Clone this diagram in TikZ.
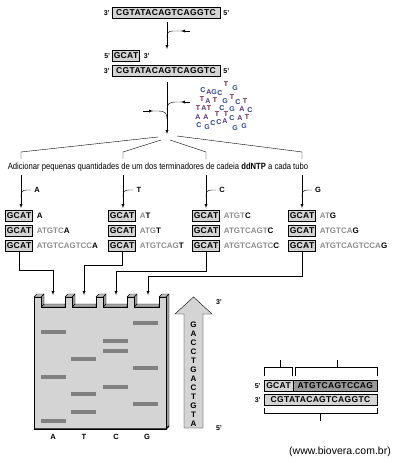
\documentclass[tikz,border=0pt]{standalone}
\usepackage{fontspec}
\setmainfont{Liberation Sans}
\usepackage{xcolor}
\usetikzlibrary{arrows, positioning}

\definecolor{nucA}{HTML}{5B2C83}
\definecolor{nucC}{HTML}{1F3A8A}
\definecolor{nucG}{HTML}{2A4A9C}
\definecolor{nucT}{HTML}{7A1F3D}
\definecolor{boxgray}{HTML}{D4D4D4}
\definecolor{fraggray}{HTML}{8C8C8C}

\newcommand{\lastnt}[1]{\textcolor{black}{#1}}

\tikzset{
    seq/.style={draw, fill=boxgray, inner sep=1.2pt, minimum height=11pt,
        font=\fontsize{8.5}{9}\selectfont\bfseries\addfontfeature{LetterSpace=4}},
    prime/.style={inner sep=0pt, font=\fontsize{7}{8}\selectfont\bfseries},
    frag/.style={inner sep=0pt, anchor=west, text=fraggray,
        font=\fontsize{8}{9}\selectfont\bfseries},
    lane/.style={inner sep=0pt, font=\fontsize{7.5}{8}\selectfont\bfseries},
    nt/.style={inner sep=0pt, font=\fontsize{7}{8}\selectfont\bfseries}
}

\begin{document}
\begin{tikzpicture}[x=1pt, y=-1pt, >=latex]
    \useasboundingbox (0,0) rectangle (400,463);

    % molde e iniciador
    \node[seq, minimum width=108pt] (tmpl) at (166,13) {CGTATACAGTCAGGTC};
    \node[prime, left=2pt of tmpl] (tmpl3) {3'};
    \node[prime, right=3pt of tmpl] (tmpl5) {5'};

    \coordinate (down1a) at (167,22);
    \coordinate (down1b) at (167,49);
    \draw[->] (down1a) -- (down1b);
    \draw[->] (190,31) -- (181,31);
    \draw (182,31) -- (173,31) .. controls (168,31) and (167,33) .. (167,38);

    \node[seq] (primer) at (126,56) {GCAT};
    \node[prime, left=2pt of primer] (primer5) {5'};
    \node[prime, right=4pt of primer] (primer3) {3'};
    \node[seq, minimum width=108pt] (tmpl2) at (166,71) {CGTATACAGTCAGGTC};
    \node[prime, left=2pt of tmpl2] (tmpl23) {3'};
    \node[prime, right=3pt of tmpl2] (tmpl25) {5'};

    \coordinate (down2a) at (167,82);
    \coordinate (down2b) at (167,134);
    \draw[->] (down2a) -- (down2b);
    \draw[->] (190,102) -- (181,102);
    \draw (182,102) -- (176,102) .. controls (169,102) and (167,104) .. (167,110);
    \draw[->] (143,111) -- (153,111);
    \draw (152,111) -- (158,111) .. controls (165,111) and (167,113) .. (167,119);

    % nucleotideos livres
    \foreach \x/\y/\l/\c in {
        203/90/C/nucC, 209/92/A/nucA, 214/92/G/nucG, 220/93/C/nucC, 226/84/T/nucT, 235/88/G/nucG,
        202/99/T/nucT, 208/101/A/nucA, 215/100/T/nucT, 225/101/G/nucG, 232/97/T/nucT, 238/102/C/nucC, 245/101/T/nucT,
        198/108/T/nucT, 204/108/A/nucA, 209/108/T/nucT, 222/108/C/nucC, 232/109/G/nucG, 242/109/A/nucA, 250/110/C/nucC,
        198/117/A/nucA, 206/117/A/nucA, 217/114/T/nucT, 226/114/T/nucT, 232/118/C/nucC, 240/118/A/nucA, 247/117/T/nucT,
        199/125/C/nucC, 207/127/G/nucG, 213/123/C/nucC, 219/122/C/nucC, 225/121/A/nucA, 235/128/G/nucG, 244/126/G/nucG}
        \node[nt, text=\c] at (\x,\y) {\l};

    % divisao em quatro tubos
    \coordinate (colA) at (21,152);
    \coordinate (colT) at (123,152);
    \coordinate (colC) at (206,152);
    \coordinate (colG) at (302,152);
    \draw (158,137) -- (colA) -- ++(0,7);
    \draw (161,140) -- (colT) -- ++(0,7);
    \draw (170,140) -- (colC) -- ++(0,7);
    \draw (177,136) -- (colG) -- ++(0,7);

    \node[inner sep=0pt, font=\fontsize{9}{10}\selectfont] (instr) at (158,167)
        {\scalebox{0.85}[1]{Adicionar pequenas quantidades de um dos terminadores de cadeia \textbf{ddNTP} a cada tubo}};

    \draw[->] (21,175) -- (21,208);
    \draw[->] (123,175) -- (123,208);
    \draw[->] (206,175) -- (206,208);
    \draw[->] (302,175) -- (302,208);
    \draw (31,190) -- (27,190) .. controls (22,190) and (21,192) .. (21,197);
    \draw (133,190) -- (129,190) .. controls (124,190) and (123,192) .. (123,197);
    \draw (216,190) -- (212,190) .. controls (207,190) and (206,192) .. (206,197);
    \draw (312,190) -- (308,190) .. controls (303,190) and (302,192) .. (302,197);
    \node[lane] (ddA) at (37,190) {A};
    \node[lane] (ddT) at (139,190) {T};
    \node[lane] (ddC) at (222,190) {C};
    \node[lane] (ddG) at (318,190) {G};

    % fragmentos em cada tubo
    \node[seq] (a1) at (19,216) {GCAT};
    \node[seq] (a2) at (19,231) {GCAT};
    \node[seq] (a3) at (19,246) {GCAT};
    \node[frag, right=4pt of a1] {\lastnt{A}};
    \node[frag, right=4pt of a2] {ATGTC\lastnt{A}};
    \node[frag, right=4pt of a3] {ATGTCAGTCC\lastnt{A}};

    \node[seq] (t1) at (122,216) {GCAT};
    \node[seq] (t2) at (122,231) {GCAT};
    \node[seq] (t3) at (122,246) {GCAT};
    \node[frag, right=4pt of t1] {A\lastnt{T}};
    \node[frag, right=4pt of t2] {ATG\lastnt{T}};
    \node[frag, right=4pt of t3] {ATGTCAG\lastnt{T}};

    \node[seq] (c1) at (206,216) {GCAT};
    \node[seq] (c2) at (206,231) {GCAT};
    \node[seq] (c3) at (206,246) {GCAT};
    \node[frag, right=4pt of c1] {ATGT\lastnt{C}};
    \node[frag, right=4pt of c2] {ATGTCAGT\lastnt{C}};
    \node[frag, right=4pt of c3] {ATGTCAGTC\lastnt{C}};

    \node[seq] (g1) at (302,216) {GCAT};
    \node[seq] (g2) at (302,231) {GCAT};
    \node[seq] (g3) at (302,246) {GCAT};
    \node[frag, right=4pt of g1] {AT\lastnt{G}};
    \node[frag, right=4pt of g2] {ATGTCA\lastnt{G}};
    \node[frag, right=4pt of g3] {ATGTCAGTCCA\lastnt{G}};

    % tubos ate o gel
    \coordinate (wellA) at (53,295);
    \coordinate (wellT) at (84,295);
    \coordinate (wellC) at (116,295);
    \coordinate (wellG) at (148,295);
    \draw[->] (a3.south) -- (a3.south |- 0,270) -- (53,270) -- (wellA);
    \draw[->] (t3.south) -- (t3.south |- 0,265) -- (84,265) -- (wellT);
    \draw[->] (c3.south) -- (c3.south |- 0,271) -- (116,271) -- (wellC);
    \draw[->] (g3.south) -- (g3.south |- 0,276) -- (148,276) -- (wellG);

    % gel
    \foreach \xl/\xn in {34/65, 65/96, 96/127, 127/159} {
        \draw[fill=gray!70] (\xl+7,307) -- (\xl+10,304) -- (\xn,304) -- (\xn,307) -- cycle;
    }
    \foreach \xl in {34, 65, 96, 127} {
        \draw[fill=gray!75] (\xl+7,297) -- (\xl+10,294) -- (\xl+10,304) -- (\xl+7,307) -- cycle;
    }
    \foreach \xl in {34, 65, 96, 127, 159} {
        \draw[fill=gray!50] (\xl,297) -- (\xl+3,294) -- (\xl+10,294) -- (\xl+7,297) -- cycle;
    }
    \draw[fill=gray!75] (166,297) -- (169,294) -- (169,426) -- (166,429) -- cycle;
    \draw[fill=boxgray] (34,429) -- (34,297) -- (41,297) -- (41,307) -- (65,307)
        -- (65,297) -- (72,297) -- (72,307) -- (96,307) -- (96,297) -- (103,297)
        -- (103,307) -- (127,307) -- (127,297) -- (134,297) -- (134,307) -- (159,307)
        -- (159,297) -- (166,297) -- (166,429) -- cycle;
    \draw[line width=1.2pt] (34,429) -- (166,429) -- (169,426);

    \foreach \x/\y in {41/332, 41/377, 41/421,
                       71/359, 71/394, 71/412,
                       103/341, 103/351, 103/387,
                       133/323, 133/368, 133/404}
        \fill[gray] (\x,\y-2) rectangle ++(25,4);

    \node[lane] (laneA) at (53,437) {A};
    \node[lane] (laneT) at (84,437) {T};
    \node[lane] (laneC) at (116,437) {C};
    \node[lane] (laneG) at (147,437) {G};

    % leitura da sequencia
    \draw[fill=boxgray] (184,428) -- (184,314) -- (175,314) -- (193.5,297)
        -- (212,314) -- (203,314) -- (203,428) -- cycle;
    \foreach \l [count=\i from 0] in {G,A,C,C,T,G,A,C,T,G,T,A}
        \node[nt, font=\fontsize{8}{9}\selectfont\bfseries] at (193.5,325+9*\i) {\l};
    \node[prime] (read3) at (219,302) {3'};
    \node[prime] (read5) at (219,428) {5'};

    % fita nova pareada com o molde
    \node[seq, minimum width=29pt] (pr) at (278.5,386) {GCAT};
    \node[seq, fill=gray!80, minimum width=84pt, right=0pt of pr] (ext) {ATGTCAGTCCAG};
    \node[seq, minimum width=113pt] (tm) at (320.5,400) {CGTATACAGTCAGGTC};
    \node[prime, left=3pt of pr] (pr5) {5'};
    \node[prime, left=3pt of tm] (tm3) {3'};

    \draw (264,376) -- (264,367) -- (292,367) -- (292,376);
    \draw (280,367) -- (280,360);
    \draw (295,376) -- (295,367) -- (377,367) -- (377,376);
    \draw (337,367) -- (337,360);
    \draw (264,408) -- (264,413) -- (377,413) -- (377,408);
    \draw (320,413) -- (320,421);

    \node[inner sep=0pt, font=\fontsize{10.5}{12}\selectfont] (site) at (340,452) {(www.biovera.com.br)};
\end{tikzpicture}
\end{document}
